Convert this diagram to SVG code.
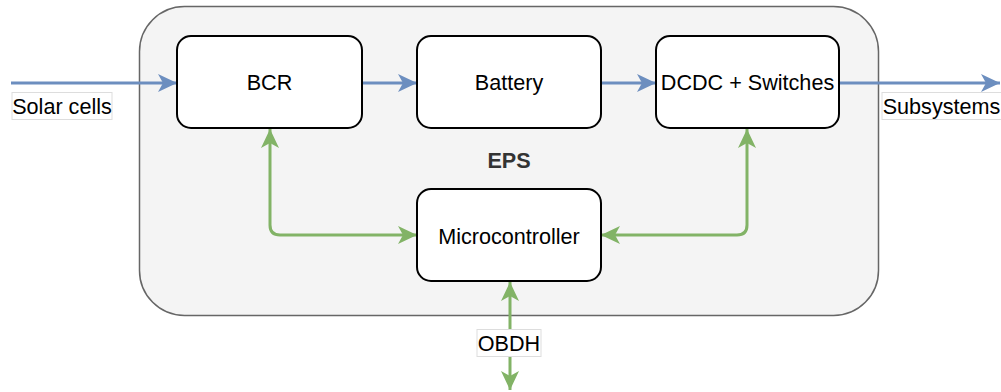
<svg xmlns="http://www.w3.org/2000/svg" width="1001" height="392" viewBox="0 0 1001 392">
  <style>
    .txt { font-family: "Liberation Sans", Arial, sans-serif; font-size: 21.6px; fill: #000; text-anchor: middle; dominant-baseline: central; }
    .title { font-weight: bold; fill: #333; }
    .box { fill: #fff; stroke: #000; stroke-width: 2; }
    .lbl { fill: #fff; stroke: #ddd; stroke-width: 1; }
    .flow { fill: none; stroke: #6c8ebf; stroke-width: 3; }
    .ctrl { fill: none; stroke: #82b366; stroke-width: 3; }
  </style>
  <defs>
    <marker id="arrBlue" markerUnits="userSpaceOnUse" markerWidth="22" markerHeight="22" viewBox="-20 -10 22 20" refX="0" refY="0" orient="auto">
      <path d="M0,0 L-19,-9 L-14,0 L-19,9 Z" fill="#6c8ebf"/>
    </marker>
    <marker id="arrGreen" markerUnits="userSpaceOnUse" markerWidth="22" markerHeight="22" viewBox="-20 -10 22 20" refX="0" refY="0" orient="auto-start-reverse">
      <path d="M0,0 L-19,-9 L-14,0 L-19,9 Z" fill="#82b366"/>
    </marker>
  </defs>

  <!-- EPS container -->
  <g id="eps">
    <rect x="139.5" y="6.5" width="739" height="309" rx="45" ry="45" fill="#f4f4f4" stroke="#666" stroke-width="1.5"/>
    <text class="txt title" x="509" y="160">EPS</text>
  </g>

  <!-- connectors -->
  <g id="connectors">
    <path class="flow" d="M11,83 L177,83" marker-end="url(#arrBlue)"/>
    <path class="flow" d="M362,83 L417,83" marker-end="url(#arrBlue)"/>
    <path class="flow" d="M601,83 L656,83" marker-end="url(#arrBlue)"/>
    <path class="flow" d="M839,83 L1000,83" marker-end="url(#arrBlue)"/>
    <path class="ctrl" d="M270,129 L270,225 Q270,235 280,235 L417,235" marker-start="url(#arrGreen)" marker-end="url(#arrGreen)"/>
    <path class="ctrl" d="M747,129 L747,225 Q747,235 737,235 L601,235" marker-start="url(#arrGreen)" marker-end="url(#arrGreen)"/>
    <path class="ctrl" d="M510,282 L510,390" marker-start="url(#arrGreen)" marker-end="url(#arrGreen)"/>
  </g>

  <!-- edge labels -->
  <g id="label-solar">
    <rect class="lbl" x="12" y="92.5" width="100" height="27"/>
    <text class="txt" x="62" y="106">Solar cells</text>
  </g>
  <g id="label-subsystems">
    <rect class="lbl" x="882" y="92.5" width="122" height="27"/>
    <text class="txt" x="941.5" y="106">Subsystems</text>
  </g>
  <g id="label-obdh">
    <rect class="lbl" x="477" y="329.5" width="64" height="27"/>
    <text class="txt" x="509" y="343">OBDH</text>
  </g>

  <!-- blocks -->
  <g id="bcr">
    <rect class="box" x="177" y="36" width="185" height="92" rx="14" ry="14"/>
    <text class="txt" x="269.5" y="82">BCR</text>
  </g>
  <g id="battery">
    <rect class="box" x="417" y="36" width="184" height="92" rx="14" ry="14"/>
    <text class="txt" x="509" y="82">Battery</text>
  </g>
  <g id="dcdc">
    <rect class="box" x="656" y="36" width="183" height="92" rx="14" ry="14"/>
    <text class="txt" x="747.5" y="82">DCDC + Switches</text>
  </g>
  <g id="microcontroller">
    <rect class="box" x="417" y="189" width="184" height="92" rx="14" ry="14"/>
    <text class="txt" x="509" y="236">Microcontroller</text>
  </g>
</svg>
